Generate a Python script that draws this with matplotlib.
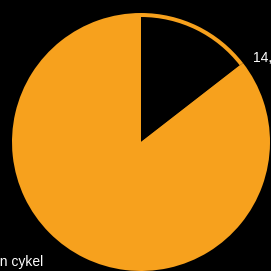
import matplotlib
matplotlib.use("Agg")
import matplotlib.pyplot as plt

categories = ["Med cykel", "Utan cykel"]
shares = [14.5, 85.5]
slice_labels = ["14,5 %", "Utan cykel"]

ORANGE = "#f7a11d"
BG = "#000000"

plt.rcParams["font.family"] = ["Liberation Sans", "DejaVu Sans"]

fig = plt.figure(figsize=(2.71, 2.71), dpi=100, facecolor=BG)
ax = fig.add_axes([0, 0, 1, 1])
ax.set_facecolor(BG)

cx, cy = 141, 129
# outer orange disc, then the pie itself slightly smaller so the highlight ring shows
ax.pie(shares, colors=[ORANGE, ORANGE], radius=129, center=(cx, cy),
       startangle=90, counterclock=False, wedgeprops=dict(linewidth=0))
ax.pie(shares, colors=[BG, ORANGE], radius=125, center=(cx, cy),
       startangle=90, counterclock=False, wedgeprops=dict(linewidth=0))

ax.text(253, 209, slice_labels[0], color="white", fontsize=10, ha="left", va="baseline")
ax.text(43, 5, slice_labels[1], color="white", fontsize=10, ha="right", va="baseline")

ax.set_xlim(0, 271)
ax.set_ylim(0, 271)
ax.set_aspect("equal")
ax.axis("off")

fig.savefig("out.png", dpi=100, facecolor=BG)
